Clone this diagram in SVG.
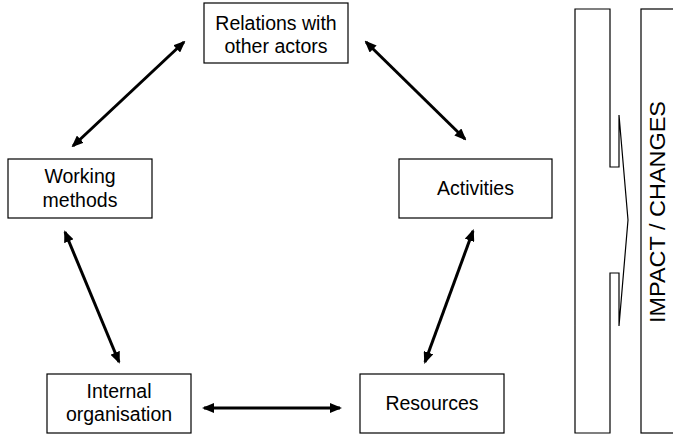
<svg xmlns="http://www.w3.org/2000/svg" width="673" height="435" viewBox="0 0 673 435">
<defs>
<style>
.box{fill:#fff;stroke:#000;stroke-width:1.2}
.t{font-family:"Liberation Sans",Arial,sans-serif;font-size:19.5px;fill:#000;text-anchor:middle}
.c{stroke:#000;stroke-width:3;fill:none;marker-start:url(#ah);marker-end:url(#ah)}
.panel{fill:#fff;stroke:#000;stroke-width:1.2}
</style>
<marker id="ah" viewBox="0 0 12 10" refX="10" refY="5" markerWidth="12" markerHeight="10" markerUnits="userSpaceOnUse" orient="auto-start-reverse">
<path d="M0,0 L12,5 L0,10 z" fill="#000"/>
</marker>
</defs>
<rect width="673" height="435" fill="#fff"/>
<g id="connectors">
<line class="c" x1="184" y1="42" x2="73" y2="146"/>
<line class="c" x1="366" y1="42" x2="465" y2="139"/>
<line class="c" x1="65" y1="232" x2="119" y2="362"/>
<line class="c" x1="473" y1="231" x2="425" y2="362"/>
<line class="c" x1="204" y1="408" x2="340" y2="408"/>
</g>
<g id="relations">
<rect class="box" x="204" y="3" width="144" height="60"/>
<text class="t" x="276" y="30">Relations with</text>
<text class="t" x="276" y="53">other actors</text>
</g>
<g id="working">
<rect class="box" x="8" y="159" width="144" height="59"/>
<text class="t" x="80" y="183">Working</text>
<text class="t" x="80" y="207">methods</text>
</g>
<g id="activities">
<rect class="box" x="399" y="159" width="153" height="59"/>
<text class="t" x="475.5" y="195">Activities</text>
</g>
<g id="internal">
<rect class="box" x="47" y="374" width="144" height="59"/>
<text class="t" x="119" y="398">Internal</text>
<text class="t" x="119" y="421">organisation</text>
</g>
<g id="resources">
<rect class="box" x="360" y="374" width="144" height="59"/>
<text class="t" x="432" y="410">Resources</text>
</g>
<g id="impact">
<path class="panel" d="M575,9 H610 V167 H619 V115 L628,220 L619,326 V273 H610 V433 H575 Z"/>
<rect class="panel" x="641" y="9" width="40" height="424"/>
<text class="t" x="665" y="212" textLength="222" lengthAdjust="spacingAndGlyphs" transform="rotate(-90 665 212)" style="font-size:21.5px">IMPACT / CHANGES</text>
</g>
</svg>
